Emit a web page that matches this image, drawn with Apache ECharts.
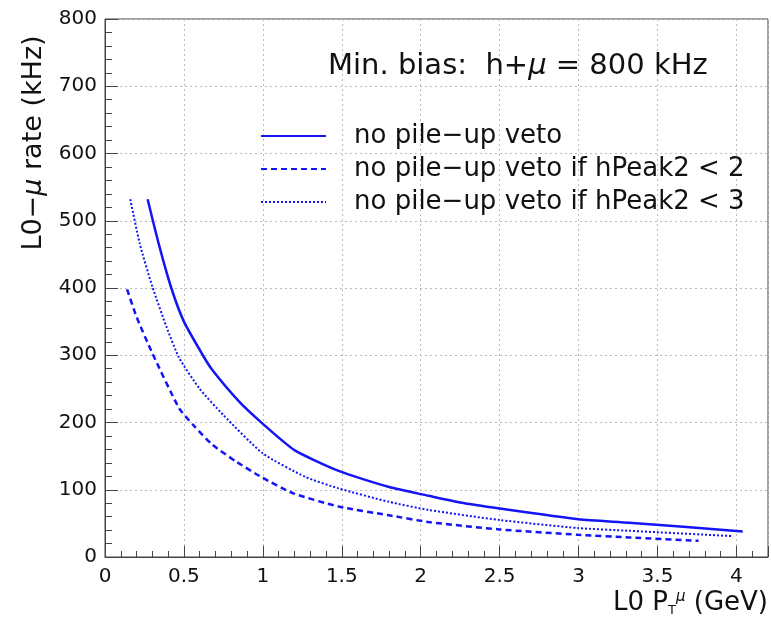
<!DOCTYPE html>
<html>
<head>
<meta charset="utf-8">
<script src="https://cdn.jsdelivr.net/npm/echarts@6/dist/echarts.min.js"></script>
<style>
  html, body { margin: 0; padding: 0; background: #fff; }
  #chart { width: 771px; height: 619px; }
</style>
</head>
<body>
<div id="chart"></div>
<script>
// pT (GeV) and rate (kHz)
const ptNoVeto   = [0.27, 0.34, 0.42, 0.50, 0.62, 0.68, 0.85, 1.00, 1.20, 1.48, 1.80, 2.05, 2.25, 2.50, 3.00, 3.32, 4.04];
const rateNoVeto = [532, 466, 400, 350, 300, 278, 231, 198, 159, 128, 104, 91, 81, 72, 56, 51, 38];

const ptPeak2   = [0.14, 0.20, 0.30, 0.47, 0.56, 0.68, 0.83, 0.99, 1.19, 1.48, 1.80, 2.05, 2.50, 3.00, 3.32, 3.76];
const ratePeak2 = [398, 357, 303, 221, 196, 167, 142, 119, 95, 75, 62, 52, 41, 33, 29, 24];

const ptPeak3   = [0.16, 0.22, 0.30, 0.39, 0.47, 0.60, 0.75, 1.00, 1.27, 1.48, 1.80, 2.05, 2.50, 3.00, 3.32, 3.98];
const ratePeak3 = [532, 466, 402, 342, 296, 250, 211, 154, 119, 102, 82, 70, 55, 43, 39, 31];

const seriesNames = [
  'no pile\u2212up veto',
  'no pile\u2212up veto if hPeak2 < 2',
  'no pile\u2212up veto if hPeak2 < 3'
];

const blue = '#1414f5';
const font = 'DejaVu Sans, Verdana, sans-serif';
const ink = '#111';

function pairs(xs, ys) {
  return xs.map((x, i) => [x, ys[i]]);
}

const chart = echarts.init(document.getElementById('chart'));

chart.setOption({
  animation: false,
  backgroundColor: '#fff',
  textStyle: { fontFamily: font },
  title: {
    text: 'Min. bias:  h+{it|\u03bc} = 800 kHz',
    left: 323,
    top: 47,
    textStyle: {
      fontFamily: font,
      fontSize: 29,
      fontWeight: 'normal',
      color: ink,
      rich: {
        it: { fontFamily: font, fontSize: 29, fontStyle: 'italic', color: ink }
      }
    }
  },
  legend: {
    orient: 'vertical',
    left: 255,
    top: 118,
    itemWidth: 65,
    itemHeight: 14,
    itemGap: 7,
    selectedMode: false,
    data: seriesNames,
    itemStyle: { opacity: 0 },
    textStyle: {
      fontFamily: font,
      fontSize: 26,
      color: ink,
      padding: [0, 0, 0, 23]
    }
  },
  grid: {
    left: 105,
    top: 19,
    right: 1,
    bottom: 62,
    show: true,
    borderColor: '#444',
    borderWidth: 1
  },
  xAxis: {
    type: 'value',
    min: 0,
    max: 4.2,
    interval: 0.5,
    name: 'L0 P{sub|T}{sup|\u03bc} (GeV)',
    nameLocation: 'end',
    nameGap: 0,
    nameTextStyle: {
      fontFamily: font,
      fontSize: 26,
      color: ink,
      align: 'right',
      verticalAlign: 'top',
      padding: [33, 0, 0, 0],
      rich: {
        sub: { fontFamily: font, fontSize: 13, color: ink, padding: [14, 0, 0, 0] },
        sup: { fontFamily: font, fontSize: 15, fontStyle: 'italic', color: ink, padding: [0, 0, 12, 0] }
      }
    },
    axisLine: { show: true, onZero: false, lineStyle: { color: '#444', width: 1 } },
    axisTick: { show: true, inside: true, length: 11, lineStyle: { color: '#444' } },
    minorTick: { show: true, splitNumber: 5, length: 6, lineStyle: { color: '#444' } },
    axisLabel: {
      fontFamily: font,
      fontSize: 20,
      color: ink,
      margin: 10,
      showMaxLabel: false,
      formatter: v => (Math.abs(v * 2 - Math.round(v * 2)) < 1e-6 ? String(v) : '')
    },
    splitLine: { show: true, lineStyle: { color: '#bbb', type: [2, 3], width: 1 } }
  },
  yAxis: {
    type: 'value',
    min: 0,
    max: 800,
    interval: 100,
    name: 'L0\u2212{it|\u03bc} rate (kHz)',
    nameLocation: 'middle',
    nameRotate: 90,
    nameGap: 57,
    nameTextStyle: {
      fontFamily: font,
      fontSize: 27,
      color: ink,
      padding: [0, 0, 0, 290],
      rich: {
        it: { fontFamily: font, fontSize: 27, fontStyle: 'italic', color: ink }
      }
    },
    axisLine: { show: true, lineStyle: { color: '#444', width: 1 } },
    axisTick: { show: true, inside: true, length: 13, lineStyle: { color: '#444' } },
    minorTick: { show: true, splitNumber: 5, length: 7, lineStyle: { color: '#444' } },
    axisLabel: { fontFamily: font, fontSize: 20, color: ink, margin: 8 },
    splitLine: { show: true, lineStyle: { color: '#bbb', type: [2, 3], width: 1 } }
  },
  series: [
    {
      name: seriesNames[0],
      type: 'line',
      data: pairs(ptNoVeto, rateNoVeto),
      smooth: 0.2,
      symbol: 'none',
      lineStyle: { color: blue, width: 2.5, type: 'solid' },
      itemStyle: { color: blue }
    },
    {
      name: seriesNames[1],
      type: 'line',
      data: pairs(ptPeak2, ratePeak2),
      smooth: 0.2,
      symbol: 'none',
      lineStyle: { color: blue, width: 2.5, type: [6, 4] },
      itemStyle: { color: blue }
    },
    {
      name: seriesNames[2],
      type: 'line',
      data: pairs(ptPeak3, ratePeak3),
      smooth: 0.2,
      symbol: 'none',
      lineStyle: { color: blue, width: 2, type: [2, 2] },
      itemStyle: { color: blue }
    }
  ]
});
</script>
</body>
</html>
